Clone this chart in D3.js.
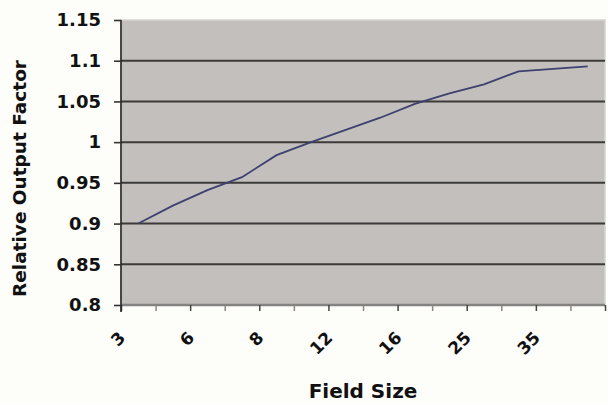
<!DOCTYPE html>
<html>
<head>
<meta charset="utf-8">
<script src="https://cdnjs.cloudflare.com/ajax/libs/d3/7.8.5/d3.min.js"></script>
<style>
  html, body { margin: 0; padding: 0; background: #fdfdfa; }
  #chart { width: 608px; height: 405px; }
  text { font-family: "DejaVu Sans", sans-serif; font-weight: bold; fill: #111; }
</style>
</head>
<body>
<div id="chart"></div>
<script>
// field sizes (category axis), only every other one gets a label
var fieldSizes = ["3", "4", "6", "7", "8", "10", "12", "14", "16", "20", "25", "30", "35", "40"];
var outputFactors = [0.900, 0.922, 0.941, 0.957, 0.984, 1.000, 1.015, 1.030, 1.047, 1.060, 1.071, 1.087, 1.090, 1.093];
var yTicks = [0.8, 0.85, 0.9, 0.95, 1, 1.05, 1.1, 1.15];

var margin = {top: 20, right: 3, bottom: 100, left: 121},
    width = 608 - margin.left - margin.right,
    height = 405 - margin.top - margin.bottom;

var font = "'DejaVu Sans', sans-serif";

var svg = d3.select("#chart").append("svg")
    .attr("width", 608)
    .attr("height", 405)
  .append("g")
    .attr("transform", "translate(" + margin.left + "," + margin.top + ")");

// set the ranges
var x = d3.scaleBand().domain(fieldSizes).range([0, width]).padding(0);
var xEdge = d3.scaleLinear().domain([0, fieldSizes.length]).range([0, width]);
var y = d3.scaleLinear().domain([0.8, 1.15]).range([height, 0]);

// plot area
svg.append("rect")
    .attr("width", width)
    .attr("height", height)
    .attr("fill", "#c2bfbc")
    .attr("stroke", "#d6d4d1")
    .attr("stroke-width", 1.5);

// horizontal gridlines
svg.append("g")
    .selectAll("line")
    .data(yTicks.filter(function(d) { return d > 0.8 && d < 1.15; }))
    .enter().append("line")
    .attr("x1", 0)
    .attr("x2", width)
    .attr("y1", function(d) { return y(d); })
    .attr("y2", function(d) { return y(d); })
    .attr("stroke", "#3d3b3a")
    .attr("stroke-width", 2);

// bottom edge of plot (0.8)
svg.append("line")
    .attr("x1", 0).attr("x2", width)
    .attr("y1", y(0.8)).attr("y2", y(0.8))
    .attr("stroke", "#858381")
    .attr("stroke-width", 2.5);

// the line
var valueline = d3.line()
    .x(function(d, i) { return x(fieldSizes[i]) + x.bandwidth() / 2; })
    .y(function(d) { return y(d); });

svg.append("path")
    .datum(outputFactors)
    .attr("fill", "none")
    .attr("stroke", "#3e4170")
    .attr("stroke-width", 1.8)
    .attr("d", valueline);

// x tick marks between categories
svg.append("g")
    .attr("transform", "translate(0," + height + ")")
    .call(d3.axisBottom(xEdge)
        .tickValues(d3.range(0, fieldSizes.length + 1))
        .tickSize(6)
        .tickFormat(""))
    .call(function(g) { g.select(".domain").remove(); })
    .selectAll("line")
    .attr("stroke", function(d) { return d % 2 ? "#8a8886" : "#444"; })
    .attr("stroke-width", 1.5);

// x labels, rotated
var xLab = svg.append("g")
    .attr("transform", "translate(0," + height + ")")
    .call(d3.axisBottom(x)
        .tickSize(0)
        .tickFormat(function(d, i) { return i % 2 === 0 ? d : ""; }));
xLab.select(".domain").remove();
xLab.selectAll("text")
    .attr("font-size", 17)
    .attr("text-anchor", "end")
    .attr("x", null).attr("y", null).attr("dy", null)
    .attr("transform", "translate(-12,34) rotate(-45)")
    .style("font-family", font)
    .style("font-weight", "bold")
    .style("fill", "#111");

// y axis
var yAx = svg.append("g")
    .call(d3.axisLeft(y)
        .tickValues(yTicks)
        .tickSize(7)
        .tickPadding(13)
        .tickFormat(d3.format("~g")));
yAx.select(".domain")
    .attr("d", "M0,0V" + (height + 7))
    .attr("stroke", "#222")
    .attr("stroke-width", 1.6);
yAx.selectAll("line").attr("stroke", "#333").attr("stroke-width", 1.6);
yAx.selectAll("text")
    .attr("font-size", 18)
    .style("font-family", font)
    .style("font-weight", "bold")
    .style("fill", "#111");

// axis titles
svg.append("text")
    .attr("x", width / 2)
    .attr("y", height + 93)
    .attr("text-anchor", "middle")
    .attr("font-size", 20)
    .text("Field Size");

svg.append("text")
    .attr("transform", "translate(-95," + (height / 2 + 16) + ") rotate(-90)")
    .attr("text-anchor", "middle")
    .attr("font-size", 18.5)
    .text("Relative Output Factor");
</script>
</body>
</html>
